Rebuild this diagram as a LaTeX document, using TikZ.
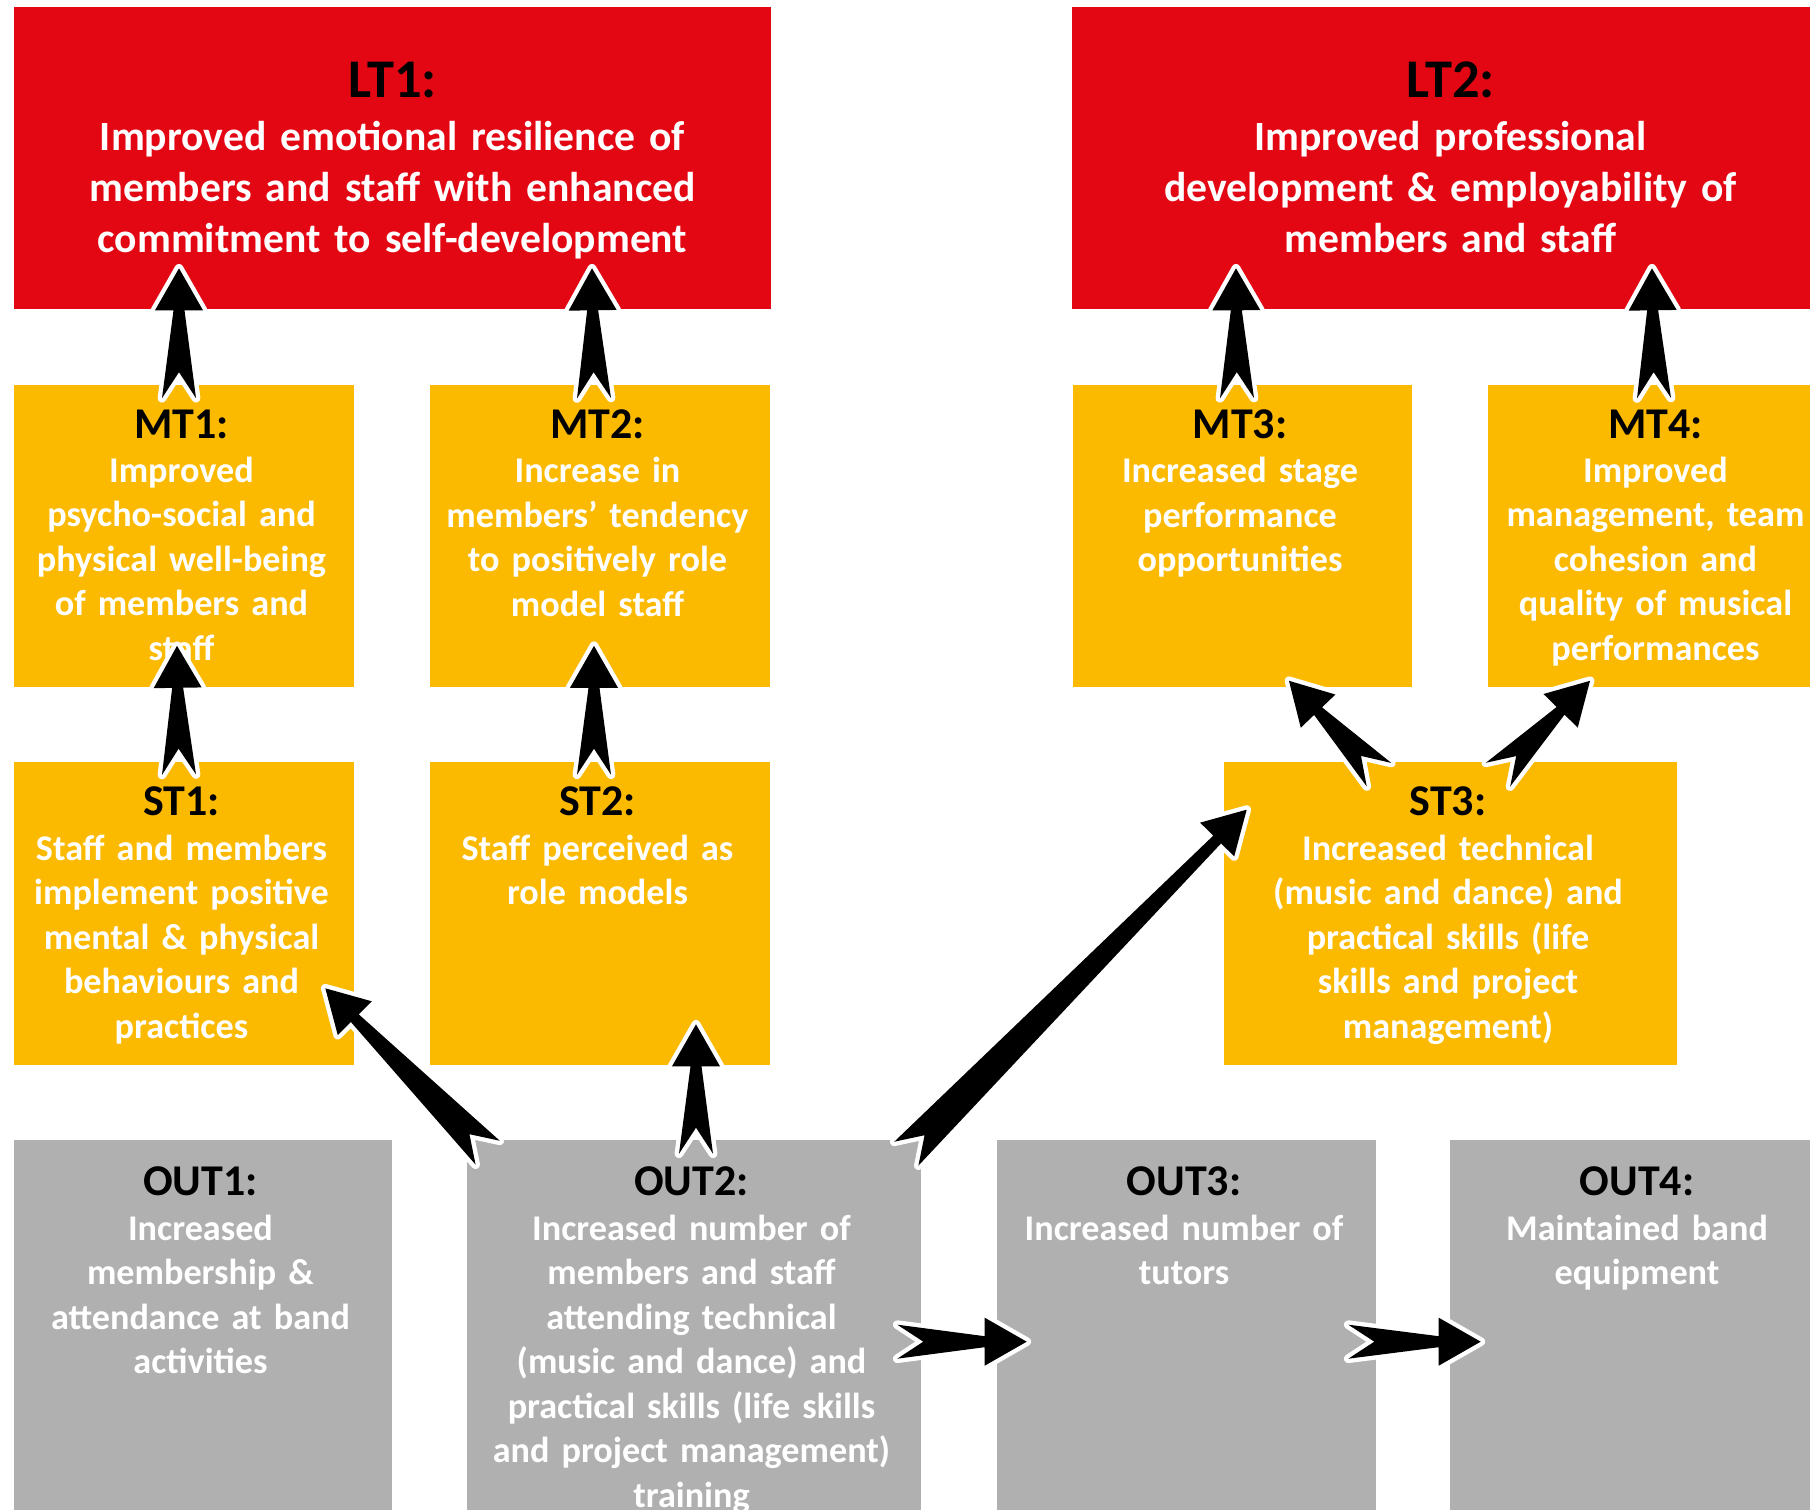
\documentclass[tikz,border=0pt]{standalone}
\usepackage{fontspec}
\setmainfont{Carlito}
\usepackage{tikz}
\usetikzlibrary{calc}
\definecolor{ltred}{RGB}{227,6,19}
\definecolor{mtgold}{RGB}{251,186,0}
\definecolor{outgrey}{RGB}{176,176,176}
\tikzstyle{LongTerm}=[rectangle, inner sep=0, fill=ltred, minimum width=15.14cm, minimum height=6.04cm]
\tikzstyle{MidTerm}=[rectangle, inner sep=0, fill=mtgold, minimum width=6.8cm, minimum height=6.06cm]
\tikzstyle{Output}=[rectangle, inner sep=0, fill=outgrey, minimum width=7.58cm, minimum height=8cm]
\tikzstyle{BigText}=[anchor=north, inner sep=0, align=center, text width=17cm, text=white, font=\bfseries\fontsize{23.7}{29}\selectfont]
\tikzstyle{SmallText}=[anchor=north, inner sep=0, align=center, text width=10cm, text=white, xshift=-0.05cm, font=\bfseries\fontsize{20.6}{25.3}\selectfont]
\tikzstyle{Chevron}=[fill=black, preaction={draw=white, line width=5pt, line join=round}]
\newcommand{\BigHead}[1]{{\color{black}\fontsize{31}{29}\selectfont #1}\\[1pt]}
\newcommand{\SmallHead}[1]{{\color{black}\fontsize{25}{25.3}\selectfont #1}\\}
\newcommand{\bigarrow}[2]{%
  \coordinate (hb) at ($(#2)!0.84cm!(#1)$);
  \fill[Chevron] ($(#1)!0.34cm!90:(#2)$) -- ($(#1)!0.52cm!(#2)$) -- ($(#1)!0.34cm!-90:(#2)$)
    -- ($(hb)!0.11cm!-90:(#2)$) -- ($(hb)!0.48cm!-90:(#2)$) -- (#2)
    -- ($(hb)!0.48cm!90:(#2)$) -- ($(hb)!0.11cm!90:(#2)$) -- cycle;}

\begin{document}
\begin{tikzpicture}[x=0.02cm, y=-0.02cm]
    \useasboundingbox (0,0) rectangle (1810,1510);
    \clip (0,0) rectangle (1810,1510);
    \path
    (392.5,158) node[LongTerm] (lt1) {}
    (1450.5,158) node[LongTerm] (lt2) {}
    (184,536) node[MidTerm] (mt1) {}
    (600,536) node[MidTerm] (mt2) {}
    (1242.5,536) node[MidTerm] (mt3) {}
    (1658,536) node[MidTerm] (mt4) {}
    (184,913.5) node[MidTerm] (st1) {}
    (600,913.5) node[MidTerm] (st2) {}
    (1450.5,913.5) node[MidTerm, minimum width=9.06cm] (st3) {}
    (203,1340) node[Output] (out1) {}
    (694,1340) node[Output, minimum width=9.08cm] (out2) {}
    (1186.5,1340) node[Output] (out3) {}
    (1639.5,1340) node[Output] (out4) {};

    \path ($(lt1.north)+(0,55)$) node[BigText] (lt1t) {\BigHead{LT1:}Improved emotional resilience of\\members and staff with enhanced\\commitment to self-development};
    \path ($(lt2.north)+(0,55)$) node[BigText] (lt2t) {\BigHead{LT2:}Improved professional\\development \& employability of\\members and staff};
    \path ($(mt1.north)+(0,25)$) node[SmallText] (mt1t) {\SmallHead{MT1:}Improved\\psycho-social and\\physical well-being\\of members and\\staff};
    \path ($(mt2.north)+(0,25)$) node[SmallText] (mt2t) {\SmallHead{MT2:}Increase in\\members’ tendency\\to positively role\\model staff};
    \path ($(mt3.north)+(0,25)$) node[SmallText] (mt3t) {\SmallHead{MT3:}Increased stage\\performance\\opportunities};
    \path ($(mt4.north)+(0,25)$) node[SmallText] (mt4t) {\SmallHead{MT4:}Improved\\management, team\\cohesion and\\quality of musical\\performances};
    \path ($(st1.north)+(0,25)$) node[SmallText] (st1t) {\SmallHead{ST1:}Staff and members\\implement positive\\mental \& physical\\behaviours and\\practices};
    \path ($(st2.north)+(0,25)$) node[SmallText] (st2t) {\SmallHead{ST2:}Staff perceived as\\role models};
    \path ($(st3.north)+(0,25)$) node[SmallText] (st3t) {\SmallHead{ST3:}Increased technical\\(music and dance) and\\practical skills (life\\skills and project\\management)};
    \path ($(out1.north)+(0,27)$) node[SmallText] (out1t) {\SmallHead{OUT1:}Increased\\membership \&\\attendance at band\\activities};
    \path ($(out2.north)+(0,27)$) node[SmallText] (out2t) {\SmallHead{OUT2:}Increased number of\\members and staff\\attending technical\\(music and dance) and\\practical skills (life skills\\and project management)\\training};
    \path ($(out3.north)+(0,27)$) node[SmallText] (out3t) {\SmallHead{OUT3:}Increased number of\\tutors};
    \path ($(out4.north)+(0,27)$) node[SmallText] (out4t) {\SmallHead{OUT4:}Maintained band\\equipment};

    \coordinate (a1t) at ($(mt1.north)+(-5,14)$);
    \coordinate (a1h) at ($(mt1.north |- lt1.south)+(-5,-41)$);
    \coordinate (a2t) at ($(mt2.north)+(-6,14)$);
    \coordinate (a2h) at ($(mt2.north |- lt1.south)+(-8,-41)$);
    \coordinate (a3t) at ($(mt3.north)+(-5.5,14)$);
    \coordinate (a3h) at ($(mt3.north |- lt2.south)+(-6.5,-41)$);
    \coordinate (a4t) at ($(mt4.north)+(-4,14)$);
    \coordinate (a4h) at ($(mt4.north |- lt2.south)+(-6,-41)$);
    \coordinate (a5t) at ($(st1.north)+(-5,13)$);
    \coordinate (a5h) at ($(st1.north |- mt1.south)+(-7,-42)$);
    \coordinate (a6t) at ($(st2.north)+(-6,13)$);
    \coordinate (a6h) at ($(st2.north |- mt2.south)+(-6,-42)$);
    \coordinate (a7t) at ($(out2.north west)+(21,13)$);
    \coordinate (a7h) at ($(st1.south east)+(-29,-77)$);
    \coordinate (a8t) at ($(out2.north)+(2,14)$);
    \coordinate (a8h) at ($(out2.north |- st2.south)+(2,-41)$);
    \coordinate (a9t) at ($(out2.north east)+(-15,14)$);
    \coordinate (a9h) at ($(st3.north west)+(23,48)$);
    \coordinate (a10t) at ($(st3.north)+(-71.5,13)$);
    \coordinate (a10h) at ($(mt3.south)+(46.5,-7)$);
    \coordinate (a11t) at ($(st3.north)+(47.5,13)$);
    \coordinate (a11h) at ($(mt4.south)+(-68,-7)$);
    \coordinate (a12t) at ($(out2.north east)+(-24,202)$);
    \coordinate (a12h) at ($(out3.north west)+(30,202)$);
    \coordinate (a13t) at ($(out3.north east)+(-28,202)$);
    \coordinate (a13h) at ($(out4.north west)+(31,202)$);

    \bigarrow{a1t}{a1h}
    \bigarrow{a2t}{a2h}
    \bigarrow{a3t}{a3h}
    \bigarrow{a4t}{a4h}
    \bigarrow{a5t}{a5h}
    \bigarrow{a6t}{a6h}
    \bigarrow{a7t}{a7h}
    \bigarrow{a8t}{a8h}
    \bigarrow{a9t}{a9h}
    \bigarrow{a10t}{a10h}
    \bigarrow{a11t}{a11h}
    \bigarrow{a12t}{a12h}
    \bigarrow{a13t}{a13h}
\end{tikzpicture}
\end{document}
